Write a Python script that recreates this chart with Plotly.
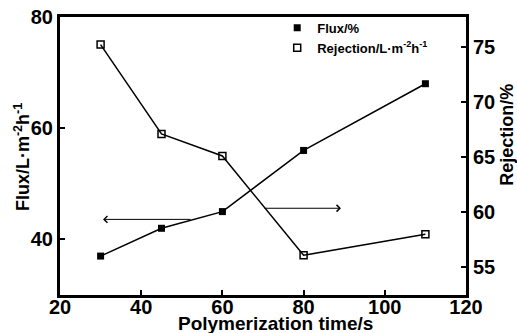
import plotly.graph_objects as go

time_s = [30, 45, 60, 80, 110]
flux = [37, 42, 45, 56, 68]
rejection = [75.2, 67.1, 65.1, 56.1, 58.0]

x_ticks = [20, 40, 60, 80, 100, 120]
left_ticks = [40, 60, 80]
right_ticks = [55, 60, 65, 70, 75]

FONT = "Liberation Sans, Arial, sans-serif"

fig = go.Figure()
fig.add_trace(go.Scatter(
    x=time_s, y=flux, mode="lines+markers", showlegend=False,
    line=dict(color="black", width=1.5),
    marker=dict(symbol="square", size=7, color="black"),
    yaxis="y"))
fig.add_trace(go.Scatter(
    x=time_s, y=rejection, mode="lines+markers", showlegend=False,
    line=dict(color="black", width=1.5),
    marker=dict(symbol="square-open", size=7, color="black", line=dict(width=1.5)),
    yaxis="y2"))
# legend-only entries (markers only, like the reference)
fig.add_trace(go.Scatter(
    x=[None], y=[None], mode="markers", name="<b>Flux/%</b>",
    marker=dict(symbol="square", size=7, color="black")))
fig.add_trace(go.Scatter(
    x=[None], y=[None], mode="markers", name="<b>Rejection/L·m<sup>-2</sup>h<sup>-1</sup></b>",
    marker=dict(symbol="square-open", size=7, color="black", line=dict(width=1.5))))

axis_common = dict(showline=True, linecolor="black", linewidth=3, ticks="inside",
                   ticklen=5, tickwidth=2, tickcolor="black", showgrid=False, zeroline=False,
                   automargin=False,
                   tickfont=dict(family=FONT, size=20, color="black"))

def bold(vals):
    return ["<b>%d</b>" % v for v in vals]

fig.update_layout(
    template="none",
    width=517, height=333,
    margin=dict(l=60, r=51, t=17, b=38, autoexpand=False),
    paper_bgcolor="white", plot_bgcolor="white",
    showlegend=True,
    legend=dict(x=0.535, y=1.015, xanchor="left", yanchor="top",
                bgcolor="rgba(0,0,0,0)", font=dict(family=FONT, size=13, color="black"),
                tracegroupgap=0, itemwidth=30),
    xaxis=dict(range=[20, 120], tickvals=x_ticks, ticktext=bold(x_ticks), mirror=True,
               ticklabelstandoff=-8, **axis_common),
    yaxis=dict(range=[30, 80], tickvals=left_ticks, ticktext=bold(left_ticks),
               ticklabelstandoff=0, **axis_common),
    yaxis2=dict(range=[52.5, 77.7], tickvals=right_ticks, ticktext=bold(right_ticks),
                ticklabelstandoff=0, overlaying="y", side="right", **axis_common),
)

# axis titles
fig.add_annotation(text="<b>Polymerization time/s</b>", xref="paper", yref="paper", x=0.53, y=0,
                   xanchor="center", yanchor="top", yshift=-16, showarrow=False,
                   font=dict(family=FONT, size=19, color="black"))
fig.add_annotation(text="<b>Flux/L·m<sup>-2</sup>h<sup>-1</sup></b>", xref="paper", yref="paper",
                   x=0, xshift=-38, xanchor="center", y=0.496, yanchor="middle",
                   textangle=-90, showarrow=False,
                   font=dict(family=FONT, size=18, color="black"))
fig.add_annotation(text="<b>Rejection/%</b>", xref="paper", yref="paper",
                   x=1, xshift=41, xanchor="center", y=0.576, yanchor="middle",
                   textangle=-90, showarrow=False,
                   font=dict(family=FONT, size=18, color="black"))

# direction arrows
fig.add_annotation(x=30.6, y=43.6, ax=52.5, ay=43.6, xref="x", yref="y", axref="x", ayref="y",
                   showarrow=True, arrowhead=4, arrowsize=1.3, arrowwidth=1, arrowcolor="black", text="")
fig.add_annotation(x=89.2, y=45.6, ax=70, ay=45.6, xref="x", yref="y", axref="x", ayref="y",
                   showarrow=True, arrowhead=4, arrowsize=1.3, arrowwidth=1, arrowcolor="black", text="")

fig.write_html("out.html")
